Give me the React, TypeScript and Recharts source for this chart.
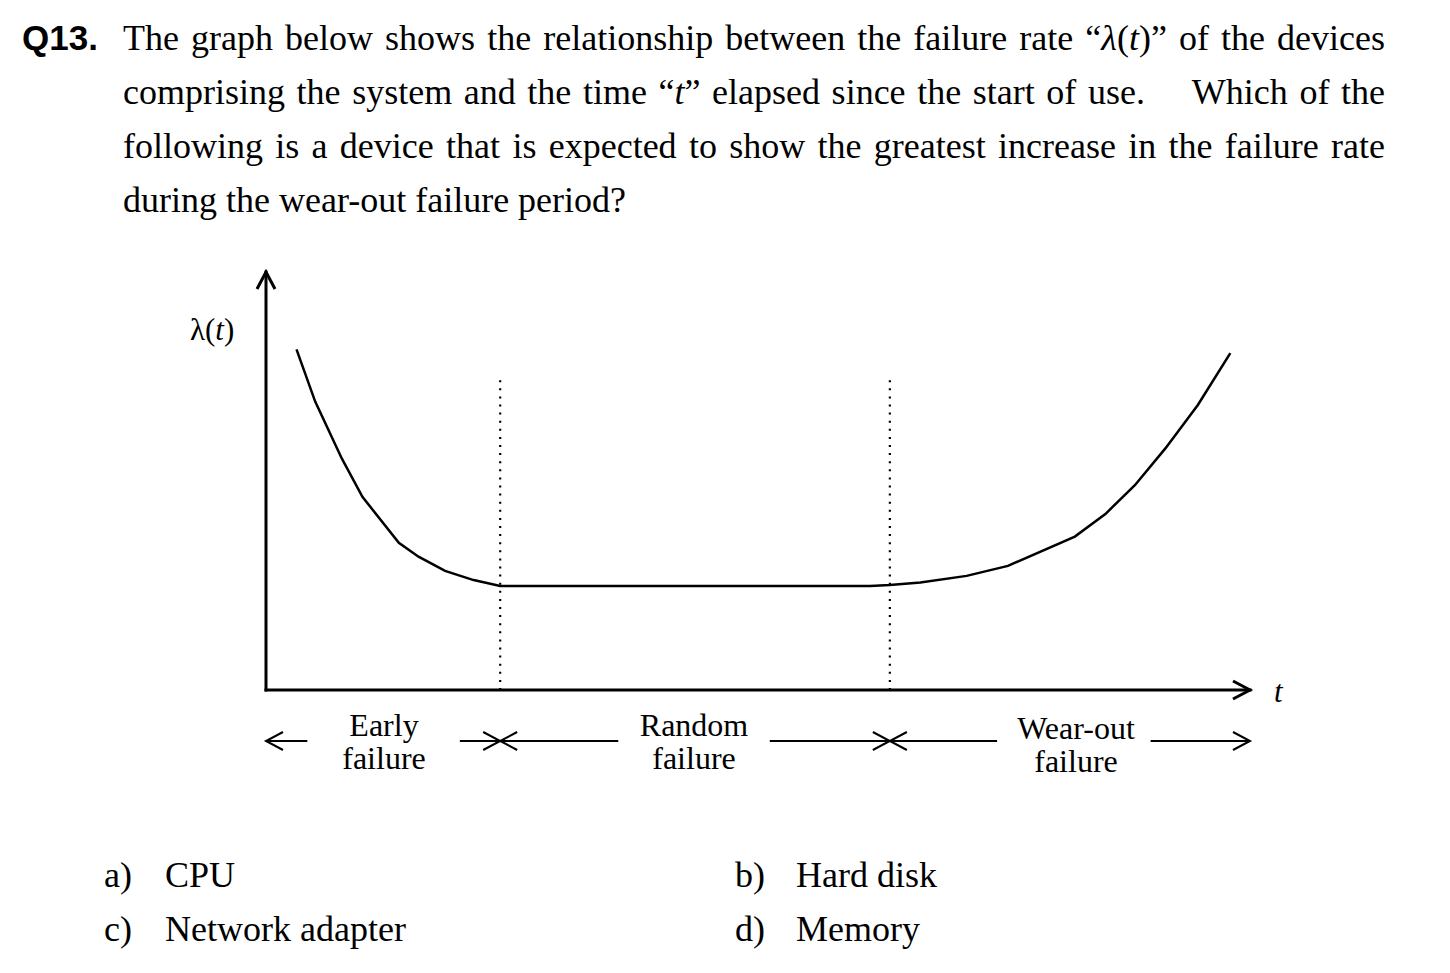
import React from "react";
import { LineChart, Line, XAxis, YAxis, ReferenceLine } from "recharts";

// bathtub curve, t and lambda both on a 0-100 scale
const timeValues = [3.1, 5.0, 7.7, 9.8, 13.5, 15.5, 18.2, 21.1, 23.8, 61.4, 63.4, 66.5, 71.2, 75.4, 82.2, 85.3, 88.3, 91.4, 94.7, 98.0];
const rateValues = [81.5, 69.0, 55.4, 46.2, 35.2, 31.9, 28.5, 26.3, 24.9, 24.9, 25.1, 25.7, 27.3, 29.7, 36.7, 42.1, 49.0, 57.8, 68.2, 80.6];

const boundaryT = [23.8, 63.4];
const boundaryTop = 75;

// arrows under the axis: [from, to], head drawn at "to"
const periodArrows = [
  [4.2, 0],
  [19.7, 23.8],
  [35.8, 23.8],
  [51.2, 63.4],
  [74.3, 63.4],
  [89.9, 100],
];
const periodLabels = [
  { lines: ["Early", "failure"], center: 384, top: 709 },
  { lines: ["Random", "failure"], center: 694, top: 709 },
  { lines: ["Wear-out", "failure"], center: 1076, top: 712 },
];

const answers = [
  { key: "a)", text: "CPU" },
  { key: "b)", text: "Hard disk" },
  { key: "c)", text: "Network adapter" },
  { key: "d)", text: "Memory" },
];

const lineData = timeValues.map((t, i) => ({ t, rate: rateValues[i] }));

const serif = '"Liberation Serif", "Times New Roman", serif';
const ARROW_ROW = -12.2;

function arrowShape(len: number, half: number, width: number, cap: "butt" | "square") {
  return (p: any) => {
    const { x1, y1, x2, y2 } = p;
    const dx = x2 - x1;
    const dy = y2 - y1;
    const d = Math.sqrt(dx * dx + dy * dy) || 1;
    const ux = dx / d;
    const uy = dy / d;
    const bx = x2 - ux * len;
    const by = y2 - uy * len;
    const w1 = `${bx - uy * half},${by + ux * half}`;
    const w2 = `${bx + uy * half},${by - ux * half}`;
    return (
      <g>
        <line x1={x1} y1={y1} x2={x2} y2={y2} stroke="#000" strokeWidth={width} strokeLinecap={cap} />
        <path d={`M${w1} L${x2},${y2} L${w2}`} fill="none" stroke="#000" strokeWidth={width} />
      </g>
    );
  };
}

export default function App() {
  const lineStyle: React.CSSProperties = {
    position: "absolute",
    left: 123,
    width: 1262,
    fontFamily: serif,
    fontSize: 36,
    lineHeight: "54px",
    textAlign: "justify",
  };
  const qLines = [
    <>The graph below shows the relationship between the failure rate “<i>λ</i>(<i>t</i>)” of the devices</>,
    <>comprising the system and the time “<i>t</i>” elapsed since the start of use.{"\u2003"} Which of the</>,
    <>following is a device that is expected to show the greatest increase in the failure rate</>,
    <>during the wear-out failure period?</>,
  ];

  return (
    <div style={{ position: "absolute", left: 0, top: 0, width: 1450, height: 973, background: "#fff", color: "#000" }}>
      <div
        style={{
          position: "absolute",
          left: 22,
          top: 11,
          fontFamily: '"Liberation Sans", Arial, sans-serif',
          fontWeight: "bold",
          fontSize: 35,
          lineHeight: "54px",
        }}
      >
        Q13.
      </div>
      {qLines.map((content, i) => (
        <div
          key={i}
          style={{
            ...lineStyle,
            top: 11 + i * 54,
            whiteSpace: i === 3 ? "nowrap" : "normal",
            textAlignLast: i === 3 ? "left" : "justify",
          }}
        >
          {content}
        </div>
      ))}

      <LineChart
        width={1450}
        height={973}
        data={lineData}
        margin={{ top: 272, right: 200, bottom: 283, left: 266 }}
        style={{ position: "absolute", left: 0, top: 0 }}
      >
        <XAxis type="number" dataKey="t" domain={[0, 100]} allowDataOverflow hide />
        <YAxis type="number" domain={[0, 100]} allowDataOverflow hide />
        {boundaryT.map((b) => (
          <ReferenceLine
            key={b}
            segment={[{ x: b, y: 0 }, { x: b, y: boundaryTop }]}
            stroke="#000"
            strokeWidth={2.2}
            strokeDasharray="2 6.1"
            ifOverflow="visible"
          />
        ))}
        <ReferenceLine
          segment={[{ x: 0, y: 0 }, { x: 0, y: 100 }]}
          ifOverflow="visible"
          shape={arrowShape(17, 9, 3, "square")}
        />
        <ReferenceLine
          segment={[{ x: 0, y: 0 }, { x: 100, y: 0 }]}
          ifOverflow="visible"
          shape={arrowShape(17, 9, 3, "square")}
        />
        {periodArrows.map(([from, to], i) => (
          <ReferenceLine
            key={i}
            segment={[{ x: from, y: ARROW_ROW }, { x: to, y: ARROW_ROW }]}
            ifOverflow="visible"
            shape={arrowShape(17, 9, 2, "butt")}
          />
        ))}
        <Line
          type="linear"
          dataKey="rate"
          stroke="#000"
          strokeWidth={2.5}
          dot={false}
          isAnimationActive={false}
        />
      </LineChart>

      <div style={{ position: "absolute", left: 190, top: 314, fontFamily: serif, fontSize: 31, lineHeight: "31px" }}>
        λ(<i>t</i>)
      </div>
      <div style={{ position: "absolute", left: 1274, top: 676, fontFamily: serif, fontSize: 31, lineHeight: "31px" }}>
        <i>t</i>
      </div>
      {periodLabels.map((p) => (
        <div
          key={p.center}
          style={{
            position: "absolute",
            left: p.center - 100,
            width: 200,
            top: p.top,
            textAlign: "center",
            fontFamily: serif,
            fontSize: 32,
            lineHeight: "33px",
          }}
        >
          {p.lines[0]}
          <br />
          {p.lines[1]}
        </div>
      ))}

      {answers.map((a, i) => (
        <div
          key={a.key}
          style={{
            position: "absolute",
            left: i % 2 === 0 ? 104 : 735,
            top: 848 + Math.floor(i / 2) * 54,
            fontFamily: serif,
            fontSize: 36,
            lineHeight: "54px",
            whiteSpace: "nowrap",
          }}
        >
          <span style={{ display: "inline-block", width: 61 }}>{a.key}</span>
          {a.text}
        </div>
      ))}
    </div>
  );
}
